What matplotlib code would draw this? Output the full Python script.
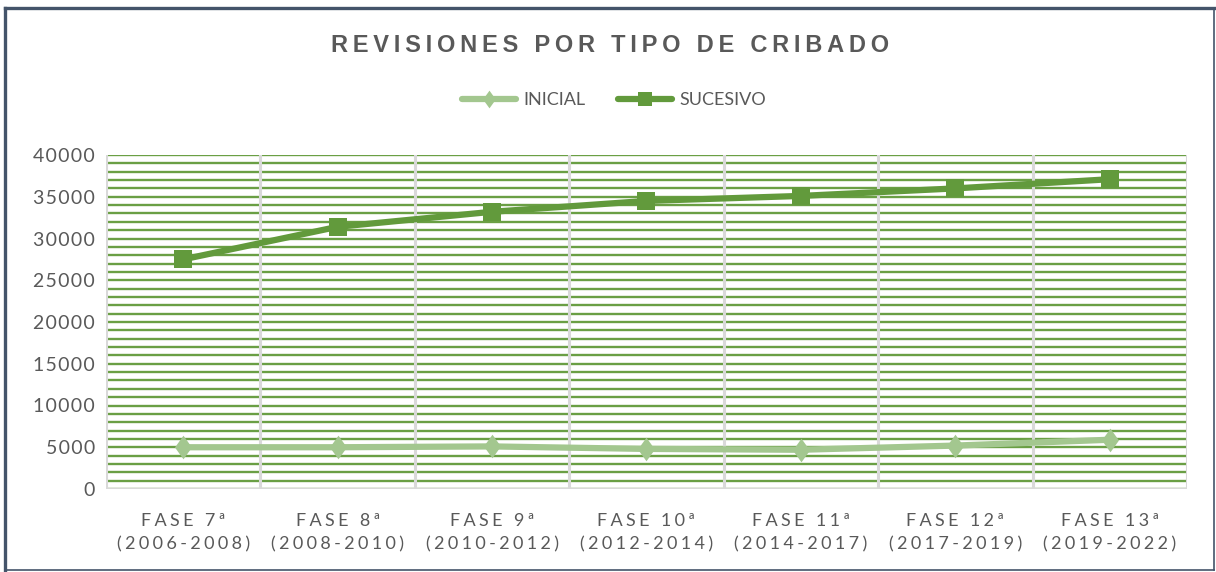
import numpy as np
import matplotlib
matplotlib.use("Agg")
import matplotlib.pyplot as plt
from matplotlib.lines import Line2D
from matplotlib.path import Path

fases = ["FASE 7ª", "FASE 8ª", "FASE 9ª", "FASE 10ª", "FASE 11ª", "FASE 12ª", "FASE 13ª"]
periodos = ["(2006-2008)", "(2008-2010)", "(2010-2012)", "(2012-2014)",
            "(2014-2017)", "(2017-2019)", "(2019-2022)"]
inicial = [5000, 5000, 5100, 4800, 4700, 5200, 5900]
sucesivo = [27500, 31400, 33200, 34500, 35100, 36000, 37100]

GRAY = "#595959"
DARK = "#629a3c"
LIGHT = "#a3c78f"
FONT = ["Lato", "DejaVu Sans"]

# Excel-like diamond (a little taller than wide)
diamond = Path([(0, 1), (0.72, 0), (0, -1), (-0.72, 0), (0, 1)],
               [Path.MOVETO, Path.LINETO, Path.LINETO, Path.LINETO, Path.CLOSEPOLY])


def spaced(s, gap="\u2009"):
    # letter spacing: thin space between characters
    return gap.join(s)


fig = plt.figure(figsize=(12.16, 5.72), dpi=100)
ax = fig.add_axes([106 / 1216, 83 / 572, 1081 / 1216, 334 / 572])

x = np.arange(len(fases))

# dense horizontal grid every 1000
for v in range(0, 40001, 1000):
    ax.axhline(v, color="#6a9f44", lw=1.7, zorder=1)
# vertical category separators
for b in np.arange(-0.5, len(fases), 1.0):
    ax.axvline(b, color="#d9d9d9", lw=2.2, zorder=1.5)
ax.axhline(0, color="#d9d9d9", lw=2.4, zorder=1.6)

ax.plot(x, inicial, color=LIGHT, lw=4.5, marker=diamond, markersize=17,
        markeredgewidth=0, label="INICIAL", zorder=3, solid_capstyle="round")
ax.plot(x, sucesivo, color=DARK, lw=4.5, marker="s", markersize=13.5,
        markeredgewidth=0, label="SUCESIVO", zorder=3, solid_capstyle="round")

ax.set_xlim(-0.5, len(fases) - 0.5)
ax.set_ylim(0, 40000)
ax.set_yticks(range(0, 40001, 5000))
ax.set_yticklabels([spaced(str(v), "\u200a") for v in range(0, 40001, 5000)],
                   fontsize=14, color=GRAY, family=FONT)
ax.set_xticks(x)
ax.set_xticklabels([spaced(f, "\u2009\u200a") + "\n" + spaced(p, "\u2009\u200a")
                    for f, p in zip(fases, periodos)],
                   fontsize=13, color=GRAY, family=FONT, linespacing=1.55)
ax.tick_params(axis="both", length=0)
ax.tick_params(axis="y", pad=8)
ax.tick_params(axis="x", pad=17)
for s in ax.spines.values():
    s.set_visible(False)

fig.text(0.502, 0.921, spaced("REVISIONES POR TIPO DE CRIBADO", "\u2009"),
         ha="center", va="center", fontsize=17, fontweight="bold", color=GRAY,
         family=["Liberation Sans", "DejaVu Sans"])

leg = fig.legend(loc="center", bbox_to_anchor=(0.505, 0.825), ncol=2, frameon=False,
                 handlelength=3.0, columnspacing=1.8, handletextpad=0.4,
                 markerscale=0.75, prop={"family": FONT, "size": 13})
for t in leg.get_texts():
    t.set_color(GRAY)

# outer frame
fc = "#44546a"
fig.add_artist(Line2D([5 / 1216, 5 / 1216], [2 / 572, 564 / 572], color=fc, lw=2.4,
                      transform=fig.transFigure))
fig.add_artist(Line2D([5 / 1216, 1214 / 1216], [564 / 572, 564 / 572], color=fc, lw=2.4,
                      transform=fig.transFigure))
fig.add_artist(Line2D([1214 / 1216, 1214 / 1216], [2 / 572, 564 / 572], color=fc, lw=1.2,
                      transform=fig.transFigure))
fig.add_artist(Line2D([5 / 1216, 1214 / 1216], [2 / 572, 2 / 572], color=fc, lw=1.2,
                      transform=fig.transFigure))

fig.savefig("out.png", dpi=100)
